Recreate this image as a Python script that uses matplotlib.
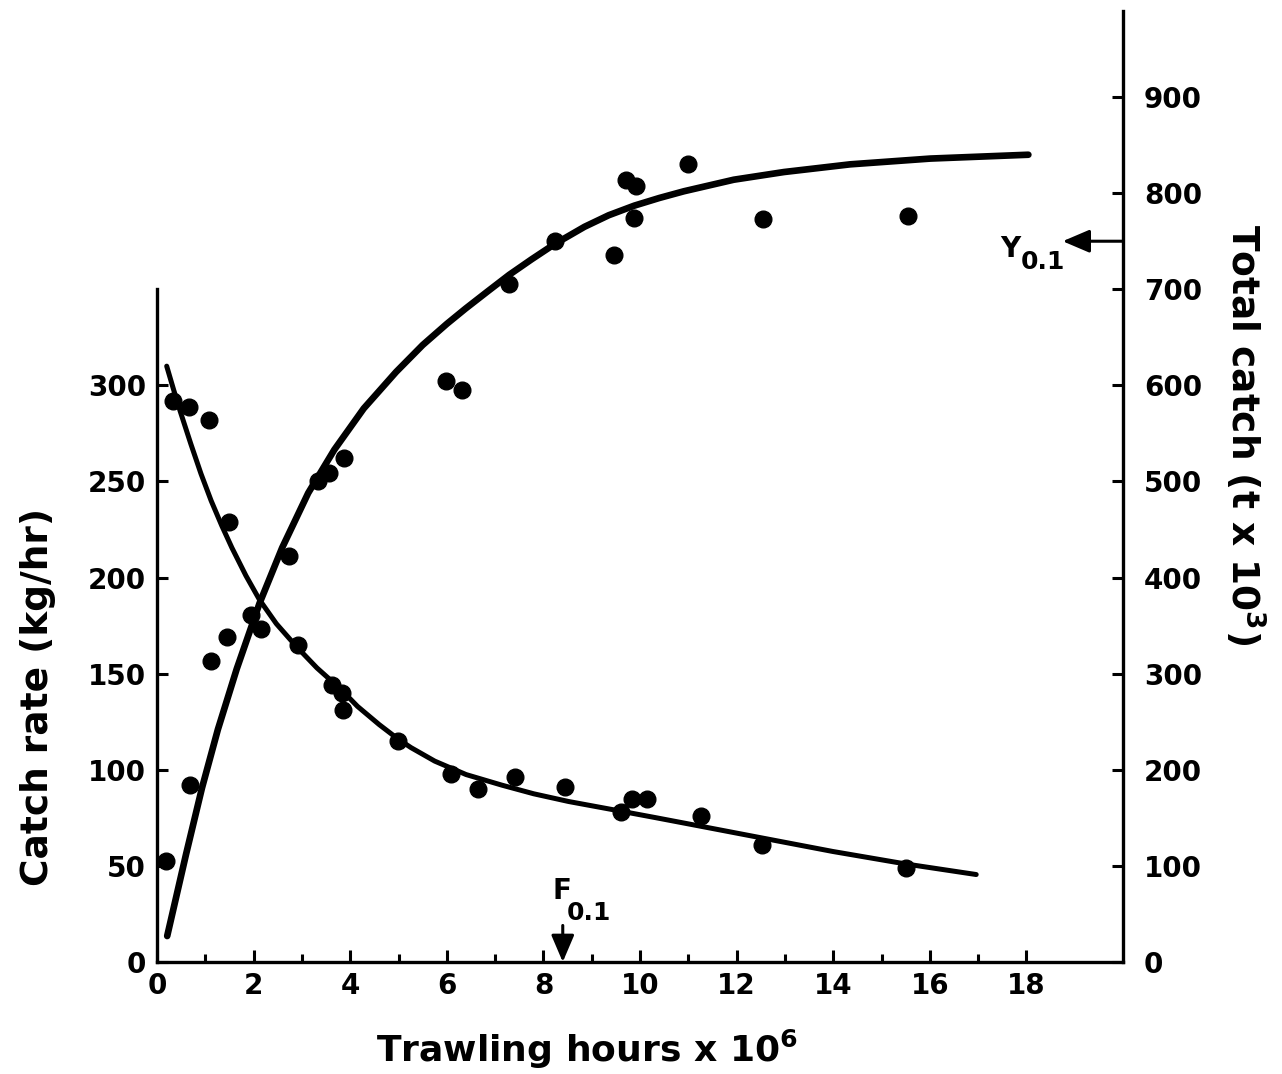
import matplotlib.pyplot as plt
from matplotlib.ticker import FixedLocator

# catch rate observations (kg/hr)
cr_effort = [0.34, 0.67, 1.07, 1.48, 2.15, 2.92, 3.63, 3.83, 3.84, 4.99,
             6.08, 6.64, 7.41, 8.45, 9.61, 9.83, 10.14, 11.27, 12.52, 15.5]
cr_values = [292, 289, 282, 229, 173, 165, 144, 140, 131, 115,
             98, 90, 96, 91, 78, 85, 85, 76, 61, 49]

# total catch observations (t x 10^3)
tc_effort = [0.19, 0.68, 1.12, 1.45, 1.95, 2.74, 3.33, 3.57, 3.88, 5.98,
             6.31, 7.29, 8.23, 9.46, 9.70, 9.91, 9.87, 10.99, 12.55, 15.55]
tc_values = [105, 184, 313, 338, 361, 422, 501, 509, 524, 605,
             595, 705, 750, 736, 814, 807, 774, 830, 773, 776]

# fitted curves
cr_curve_x = [0.2, 0.34, 0.48, 0.70, 0.91, 1.12, 1.34, 1.55, 1.84, 2.12, 2.47, 2.89,
              3.31, 3.8, 4.15, 4.6, 4.99, 5.26, 5.75, 6.4, 7.14, 7.8, 8.52, 9.49,
              10.3, 11.22, 12.53, 13.99, 15.5, 16.96]
cr_curve_y = [310, 298, 286.5, 269.5, 254, 240, 227, 215.5, 201, 188.5, 176, 164,
              153, 142, 133, 123.5, 116, 111.5, 104.5, 97.5, 92, 87.5, 83.5, 79,
              75.2, 70.8, 64.5, 57.5, 51, 45.5]

tc_curve_x = [0.21, 0.6, 0.93, 1.26, 1.65, 2.12, 2.59, 3.13, 3.67, 4.28, 4.95, 5.5,
              6.0, 6.39, 6.85, 7.29, 7.75, 8.23, 8.85, 9.35, 9.88, 10.4, 10.91,
              11.94, 12.98, 14.35, 16.01, 18.04]
tc_curve_y = [27, 112, 181, 242, 305, 373, 431, 488, 533, 576, 614, 642,
              664, 680, 698, 715, 731, 747, 765, 777, 787, 795, 802,
              814, 822, 830, 836, 840]

f_01 = 8.4
y_01 = 750

plt.rcParams["font.family"] = ["DejaVu Sans"]
plt.rcParams["font.weight"] = "bold"

fig = plt.figure(figsize=(12.82, 10.74), dpi=100)
ax = fig.add_axes([0.1225, 0.1043, 0.7535, 0.8948])
ax2 = ax.twinx()

ax.set_xlim(0, 20)
ax.set_ylim(0, 500)
ax2.set_ylim(0, 1000)

ax.plot(cr_curve_x, cr_curve_y, color="black", lw=3.6,
        solid_capstyle="round", solid_joinstyle="round", zorder=3)
ax.plot(cr_effort, cr_values, "o", color="black", ms=12, zorder=4)

ax2.plot(tc_curve_x, tc_curve_y, color="black", lw=4.8,
         solid_capstyle="round", solid_joinstyle="round", zorder=3)
ax2.plot(tc_effort, tc_values, "o", color="black", ms=12, zorder=4)

for a in (ax, ax2):
    a.spines["top"].set_visible(False)
ax.spines["right"].set_visible(False)
ax2.spines["left"].set_visible(False)
ax2.spines["bottom"].set_visible(False)
ax.spines["left"].set_bounds(0, 350)
ax2.spines["right"].set_bounds(0, 990)
for s in (ax.spines["left"], ax.spines["bottom"], ax2.spines["right"]):
    s.set_linewidth(2.4)

ax.set_xticks(range(0, 19, 2))
ax.xaxis.set_minor_locator(FixedLocator([1, 3, 5, 7, 9, 11, 13, 15, 17]))
ax.yaxis.set_major_locator(FixedLocator(range(0, 301, 50)))
ax2.yaxis.set_major_locator(FixedLocator(range(0, 901, 100)))

ax.tick_params(axis="x", direction="in", length=9, width=2.2, pad=7, labelsize=20)
ax.tick_params(axis="x", which="minor", direction="in", length=6, width=2.2)
ax.tick_params(axis="y", direction="in", length=8, width=2.2, pad=8, labelsize=20)
ax2.tick_params(axis="y", direction="in", length=8, width=2.2, pad=15, labelsize=20)

fig.text(0.458, 0.011, r"Trawling hours x 10$^\mathbf{6}$", fontsize=26,
         ha="center", va="baseline")
fig.text(0.03, 0.351, "Catch rate (kg/hr)", fontsize=27, rotation=90,
         ha="center", va="center")
fig.text(0.971, 0.595, r"Total catch (t x 10$^\mathbf{3}$)", fontsize=27,
         rotation=270, ha="center", va="center")

head = "-|>,head_length=0.75,head_width=0.32"

# F0.1 marker on the effort axis
ax.annotate("", xy=(f_01, 0), xytext=(f_01, 19),
            arrowprops=dict(arrowstyle=head, color="black", lw=2.2,
                            mutation_scale=22, shrinkA=0, shrinkB=0))
ax.text(8.18, 37, "F", fontsize=20, ha="left", va="center")
ax.text(8.49, 25.5, "0.1", fontsize=18, ha="left", va="center")

# Y0.1 marker on the total catch axis
ax2.annotate("", xy=(18.75, y_01), xytext=(20, y_01),
             arrowprops=dict(arrowstyle=head, color="black", lw=2.2,
                             mutation_scale=22, shrinkA=0, shrinkB=0))
ax2.text(17.45, 742, "Y", fontsize=20, ha="left", va="center")
ax2.text(17.89, 728, "0.1", fontsize=18, ha="left", va="center")

fig.savefig("out.png", dpi=100)
